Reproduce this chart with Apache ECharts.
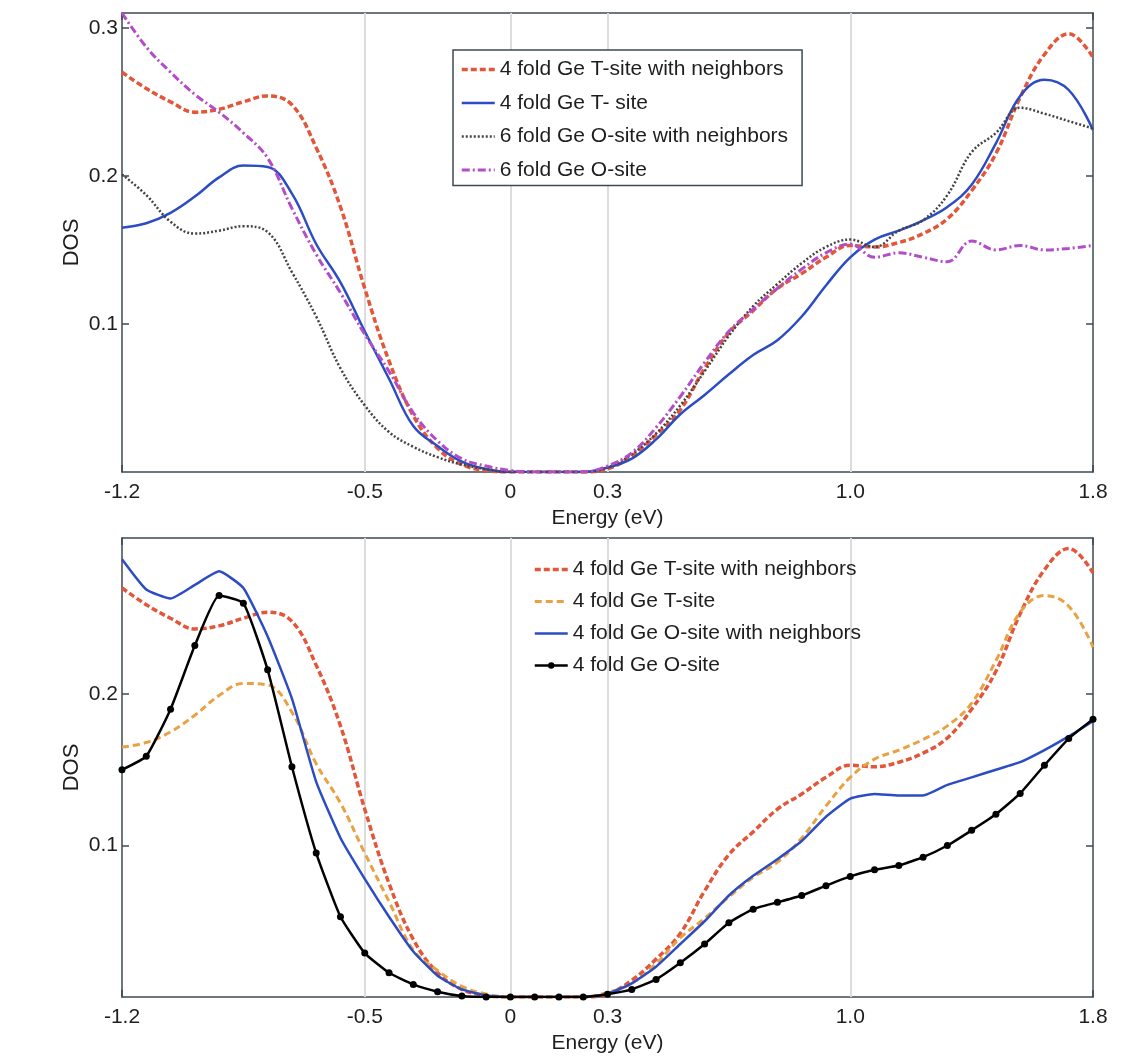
<!DOCTYPE html>
<html>
<head>
<meta charset="utf-8">
<script src="https://cdn.jsdelivr.net/npm/echarts@6/dist/echarts.min.js"></script>
<style>
html,body{margin:0;padding:0;background:#fff;}
#chart{width:1145px;height:1056px;}
</style>
</head>
<body>
<div id="chart"></div>
<script>
// ---------- DATA ----------
const energy = [-1.2, -1.125, -1.05, -0.975, -0.9, -0.825, -0.75, -0.675, -0.6, -0.525,
  -0.45, -0.375, -0.3, -0.225, -0.15, -0.075, 0, 0.075, 0.15, 0.225,
  0.3, 0.375, 0.45, 0.525, 0.6, 0.675, 0.75, 0.825, 0.9, 0.975,
  1.05, 1.125, 1.2, 1.275, 1.35, 1.425, 1.5, 1.575, 1.65, 1.725, 1.8];

// 4 fold Ge T-site with neighbors (both panels)
const tSiteNbDos = [0.270, 0.259, 0.250, 0.243, 0.245, 0.250, 0.254, 0.248, 0.219, 0.179,
  0.124, 0.075, 0.038, 0.016, 0.005, 0.001, 0, 0, 0, 0,
  0.002, 0.011, 0.025, 0.042, 0.070, 0.094, 0.109, 0.124, 0.134, 0.145,
  0.153, 0.152, 0.155, 0.161, 0.171, 0.190, 0.215, 0.253, 0.282, 0.296, 0.280];

// 4 fold Ge T-site (top: blue solid, bottom: orange dashed)
const tSiteDos = [0.165, 0.168, 0.175, 0.186, 0.199, 0.207, 0.206, 0.188, 0.154, 0.128,
  0.095, 0.063, 0.031, 0.0175, 0.007, 0.002, 0, 0, 0, 0,
  0.003, 0.009, 0.022, 0.039, 0.052, 0.066, 0.079, 0.089, 0.105, 0.126,
  0.145, 0.157, 0.163, 0.170, 0.179, 0.194, 0.222, 0.254, 0.265, 0.258, 0.231];

// 6 fold Ge O-site with neighbors
const oSite6NbDos = [0.201, 0.187, 0.169, 0.161, 0.163, 0.166, 0.162, 0.135, 0.105, 0.070,
  0.045, 0.027, 0.017, 0.010, 0.005, 0.002, 0, 0, 0, 0,
  0.003, 0.012, 0.026, 0.045, 0.068, 0.092, 0.112, 0.127, 0.141, 0.152,
  0.157, 0.152, 0.163, 0.170, 0.187, 0.216, 0.229, 0.246, 0.242, 0.237, 0.232];

// 6 fold Ge O-site
const oSite6Dos = [0.310, 0.287, 0.270, 0.255, 0.243, 0.229, 0.212, 0.178, 0.147, 0.121,
  0.093, 0.068, 0.040, 0.021, 0.009, 0.004, 0.001, 0, 0, 0,
  0.004, 0.013, 0.030, 0.051, 0.074, 0.095, 0.110, 0.124, 0.137, 0.148,
  0.154, 0.145, 0.148, 0.145, 0.142, 0.156, 0.150, 0.153, 0.150, 0.151, 0.153];

// 4 fold Ge O-site with neighbors
const oSite4NbDos = [0.289, 0.269, 0.263, 0.272, 0.281, 0.270, 0.238, 0.197, 0.142, 0.105,
  0.078, 0.053, 0.030, 0.014, 0.005, 0.001, 0, 0, 0, 0,
  0.002, 0.009, 0.020, 0.035, 0.050, 0.067, 0.080, 0.091, 0.103, 0.119,
  0.131, 0.134, 0.133, 0.133, 0.140, 0.145, 0.150, 0.155, 0.163, 0.172, 0.182];

// 4 fold Ge O-site
const oSite4Dos = [0.150, 0.159, 0.190, 0.232, 0.265, 0.260, 0.216, 0.152, 0.095, 0.053,
  0.029, 0.016, 0.0083, 0.0035, 0.0007, 0, 0, 0, 0, 0,
  0.0018, 0.005, 0.0116, 0.0226, 0.035, 0.049, 0.058, 0.0625, 0.067, 0.0735,
  0.0796, 0.084, 0.0868, 0.0923, 0.100, 0.110, 0.1206, 0.1344, 0.153, 0.1706, 0.1833];

const xTickValues = [-1.2, -0.45, 0, 0.3, 1.05, 1.8];
const xTickLabels = ['-1.2', '-0.5', '0', '0.3', '1.0', '1.8'];
const xGridValues = [-0.45, 0, 0.3, 1.05];
const yTicksTop = [0.1, 0.2, 0.3];
const yTicksBottom = [0.1, 0.2];

const namesTop = ['4 fold Ge T-site with neighbors', '4 fold Ge T- site', '6 fold Ge O-site with neighbors', '6 fold Ge O-site'];
const namesBottom = ['4 fold Ge T-site with neighbors', '4 fold Ge T-site', '4 fold Ge O-site with neighbors', '4 fold Ge O-site'];

// ---------- STYLE ----------
const FONT = 'Liberation Sans, Arial, sans-serif';
const AXIS_COLOR = '#3c4a50';
const TEXT_COLOR = '#1e1e1e';
const FS = 21;

function pairs(arr) { return energy.map((x, i) => [x, arr[i]]); }
function xLabel(v) {
  for (let i = 0; i < xTickValues.length; i++) if (Math.abs(xTickValues[i] - v) < 1e-6) return xTickLabels[i];
  return '';
}

function xAxisDef(gridIndex, position, withLabels) {
  return {
    type: 'value', gridIndex, position, min: -1.2, max: 1.8,
    name: withLabels ? 'Energy (eV)' : '', nameLocation: 'middle', nameGap: 36,
    nameTextStyle: { fontFamily: FONT, fontSize: FS, color: TEXT_COLOR },
    axisLine: { show: true, onZero: false, lineStyle: { color: AXIS_COLOR, width: 1.5 } },
    axisTick: { show: true, inside: true, length: 7, customValues: xTickValues, lineStyle: { color: AXIS_COLOR, width: 1.5 } },
    axisLabel: { show: withLabels, customValues: xTickValues, formatter: xLabel, margin: 10,
      fontFamily: FONT, fontSize: FS, color: TEXT_COLOR },
    splitLine: { show: false }
  };
}
function yAxisDef(gridIndex, position, max, ticks, withLabels) {
  return {
    type: 'value', gridIndex, position, min: 0, max,
    name: withLabels ? 'DOS' : '', nameLocation: 'middle', nameGap: 39, nameRotate: 90,
    nameMoveOverlap: false,
    nameTextStyle: { fontFamily: FONT, fontSize: 22, color: TEXT_COLOR },
    axisLine: { show: true, onZero: false, lineStyle: { color: AXIS_COLOR, width: 1.5 } },
    axisTick: { show: true, inside: true, length: 7, customValues: ticks, lineStyle: { color: AXIS_COLOR, width: 1.5 } },
    axisLabel: { show: withLabels, customValues: ticks, formatter: v => String(Math.round(v * 10) / 10), margin: 4,
      fontFamily: FONT, fontSize: FS, color: TEXT_COLOR },
    splitLine: { show: false }
  };
}
function gridLines(xi, yi) {
  return {
    type: 'line', data: [], xAxisIndex: xi, yAxisIndex: yi, silent: true, z: 1,
    markLine: {
      silent: true, z: 1, symbol: ['none', 'none'], label: { show: false },
      lineStyle: { color: '#dcdcdc', width: 2, type: 'solid' },
      emphasis: { disabled: true },
      data: xGridValues.map(v => ({ xAxis: v }))
    }
  };
}
function lineSeries(name, arr, xi, yi, color, width, type, smooth, extra) {
  return Object.assign({
    name, type: 'line', data: pairs(arr), xAxisIndex: xi, yAxisIndex: yi,
    showSymbol: false, symbol: 'none', smooth, z: 3,
    lineStyle: { color, width, type },
    itemStyle: { color }
  }, extra || {});
}
const noMarker = { color: 'rgba(0,0,0,0)', borderWidth: 0 };
function legendItems(names, markerLast) {
  return names.map((n, i) => (markerLast && i === names.length - 1) ? { name: n } : { name: n, itemStyle: noMarker });
}

const RED = '#e2573a', BLUE = '#2b4cc2', GRAY = '#444', MAGENTA = '#b34cc8', ORANGE = '#e9a243', BLACK = '#000';

const option = {
  backgroundColor: '#fff',
  animation: false,
  grid: [
    { left: 122, right: 52, top: 13, height: 459 },
    { left: 122, right: 52, top: 538, height: 459 }
  ],
  xAxis: [
    xAxisDef(0, 'bottom', true), xAxisDef(0, 'top', false),
    xAxisDef(1, 'bottom', true), xAxisDef(1, 'top', false)
  ],
  yAxis: [
    yAxisDef(0, 'left', 0.31, yTicksTop, true), yAxisDef(0, 'right', 0.31, yTicksTop, false),
    yAxisDef(1, 'left', 0.303, yTicksBottom, true), yAxisDef(1, 'right', 0.303, yTicksBottom, false)
  ],
  legend: [
    {
      data: legendItems(namesTop, false), orient: 'vertical', left: 453, top: 50,
      padding: [9, 14, 5, 7], itemGap: 12.5, itemWidth: 33, itemHeight: 8,
      borderColor: AXIS_COLOR, borderWidth: 1.5, backgroundColor: '#fff',
      lineStyle: { width: 'inherit' },
      textStyle: { fontFamily: FONT, fontSize: FS, color: TEXT_COLOR, lineHeight: 21 },
      selectedMode: false
    },
    {
      data: legendItems(namesBottom, true), orient: 'vertical', left: 526, top: 551,
      padding: [8, 12, 7, 7], itemGap: 11, itemWidth: 33, itemHeight: 8,
      borderWidth: 0,
      lineStyle: { width: 'inherit' },
      textStyle: { fontFamily: FONT, fontSize: FS, color: TEXT_COLOR, lineHeight: 21 },
      selectedMode: false
    }
  ],
  series: [
    gridLines(0, 0),
    gridLines(2, 2),
    lineSeries(namesTop[0], tSiteNbDos, 0, 0, RED, 3.5, [6, 3], 0.4),
    lineSeries(namesTop[1], tSiteDos, 0, 0, BLUE, 2.5, 'solid', 0.4),
    lineSeries(namesTop[2], oSite6NbDos, 0, 0, GRAY, 2.5, [2, 2], 0.4),
    lineSeries(namesTop[3], oSite6Dos, 0, 0, MAGENTA, 3, [8, 3, 2, 3], 0.4),
    lineSeries(namesBottom[0], tSiteNbDos, 2, 2, RED, 3.5, [6, 3], 0.4),
    lineSeries(namesBottom[1], tSiteDos, 2, 2, ORANGE, 3, [7, 4], 0.4),
    lineSeries(namesBottom[2], oSite4NbDos, 2, 2, BLUE, 2.5, 'solid', 0.15),
    lineSeries(namesBottom[3], oSite4Dos, 2, 2, BLACK, 2.5, 'solid', 0.15,
      { showSymbol: true, symbol: 'circle', symbolSize: 7, z: 4 })
  ]
};

const chart = echarts.init(document.getElementById('chart'), null, { renderer: 'canvas' });
chart.setOption(option);
</script>
</body>
</html>
